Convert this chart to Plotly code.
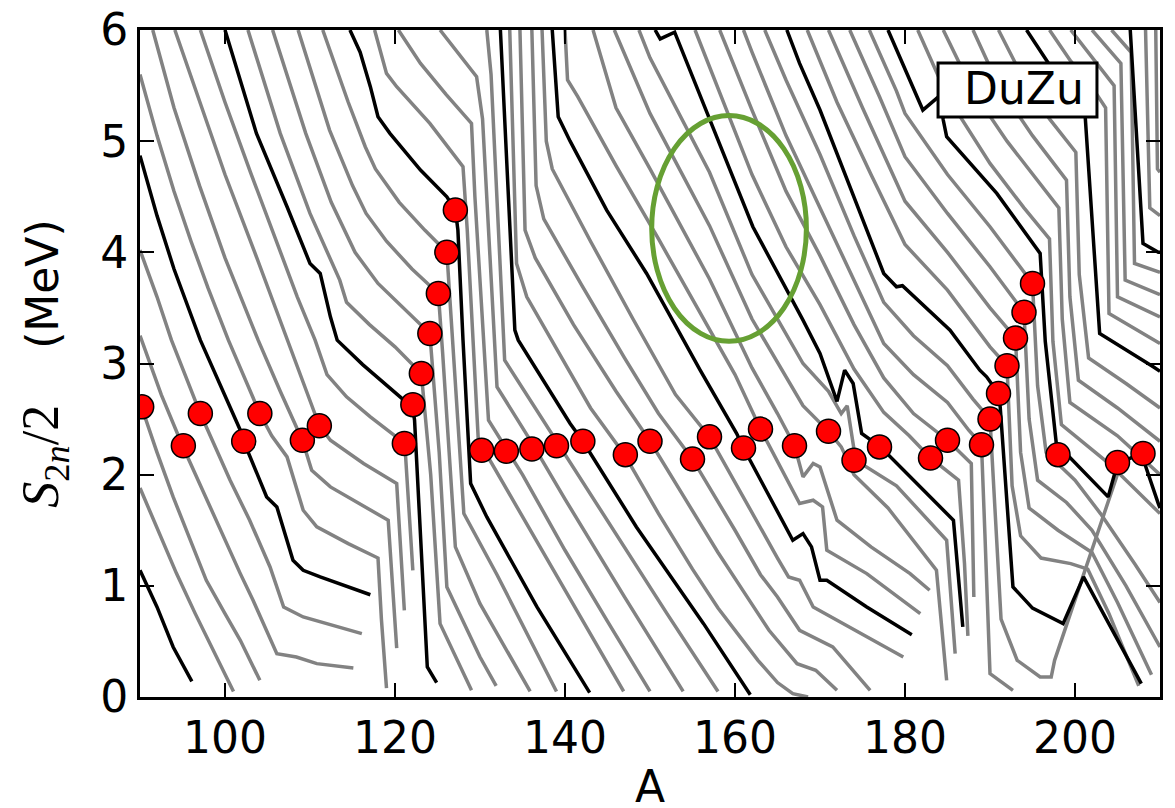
import plotly.graph_objects as go

# ---- isotopic chains: (A, S2n/2) ----
Z30 = [(90,1.14),(92,0.81),(93.9,0.45),(96.1,0.14)]
Z31 = [(90,1.88),(92,1.52),(94.3,1.11),(96.5,0.75),(98.6,0.42),(101,0.05)]
Z32 = [(90,2.65),(92,2.2),(93.9,1.8),(95.9,1.42),(97.8,1.05),(100,0.75),(101.8,0.51),(104.1,0.15)]
Z33 = [(90,3.25),(92.5,2.72),(95,2.26),(97,1.92),(99.5,1.5),(101.8,1.11),(103.3,0.87),(106.1,0.39),(108.4,0.36),(110.8,0.30),(115.1,0.26)]
Z34 = [(90,4.02),(92,3.6),(93.7,3.21),(95.5,2.85),(97.1,2.55),(100.6,1.95),(102.9,1.59),(105.3,1.17),(106.9,0.81),(109.2,0.72),(112.4,0.65),(116.1,0.57)]
Z35 = [(90,4.87),(92,4.33),(94,3.85),(96.3,3.39),(97.1,3.21),(101.8,2.40),(102.2,2.30),(104.9,1.80),(106.1,1.71),(108,1.23),(109.2,1.14),(111.2,1.08),(117.1,0.92)]
Z36 = [(90,5.6),(92,5.05),(94,4.55),(96,4.1),(98,3.68),(100.4,3.21),(104.1,2.55),(105.5,2.35),(107.3,2.16),(109.2,1.68),(110.8,1.53),(114.5,1.38),(118,1.25),(118.4,0.7),(119,0.08)]
Z37 = [(91.5,6),(94,5.3),(97,4.6),(100,3.95),(103.9,3.21),(106.5,2.75),(109.1,2.31),(110.2,2.04),(112.4,1.89),(117.1,1.68),(119.2,1.59),(120.2,0.44)]
Z38 = [(94.1,6),(97,5.35),(100,4.7),(103.5,4.0),(107.3,3.21),(109.5,2.75),(111.1,2.44),(112.4,2.31),(116.3,2.10),(120.2,1.92),(121.1,0.78)]
Z39 = [(97.1,6),(100,5.35),(103,4.72),(106.5,4.0),(108.5,3.6),(110.6,3.21),(112,2.9),(114.3,2.70),(117.1,2.52),(120.5,2.32),(121.2,2.22),(122.1,1.14)]
Z40 = [(100,6),(103.7,5.07),(107.3,4.41),(110,3.90),(111.2,3.81),(112.4,3.42),(113.2,3.21),(116.2,2.99),(120.6,2.70),(122.1,2.6),(122.3,2.49),(123.8,0.27),(124.9,0.13)]
Z41 = [(102.7,6),(106.5,5.07),(110,4.35),(113.5,3.75),(114.3,3.55),(117,3.35),(120,3.15),(123.1,2.91),(124.2,2.0),(125.3,0.66),(129,0.06)]
Z42 = [(105.6,6),(109.5,5.07),(112.5,4.45),(115.3,4.0),(118,3.72),(121,3.5),(124.1,3.27),(125.2,2.2),(126.1,0.99),(130,0.36),(131.9,0.1)]
Z43 = [(108.6,6),(112.3,5.1),(115,4.6),(116.6,4.35),(119,4.1),(122,3.85),(125.1,3.63),(125.6,3.1),(127.1,1.35),(130,0.84),(135.9,0.05)]
Z44 = [(111.5,6),(114.5,5.35),(116.5,4.95),(117.7,4.75),(120.5,4.45),(123.5,4.2),(126.1,4.0),(126.7,3.3),(128.1,1.65),(132,1.1),(139,0.05)]
Z45 = [(114.7,6),(115.9,5.8),(117.1,5.49),(118,5.22),(119.4,5.07),(123,4.74),(126.1,4.5),(127.1,4.38),(127.4,4.2),(128,3.21),(128.9,1.92),(130.8,1.62),(136.7,0.81),(142.9,0.04)]
Z46 = [(117.6,6),(119,5.61),(120.2,5.49),(124.1,5.16),(128,4.77),(128.5,4.2),(129.8,2.31),(135,1.62),(140,0.95),(146.9,0.05)]
Z47 = [(120.4,6),(123,5.7),(126,5.42),(129,5.16),(129.4,4.5),(131,2.49),(135,2.0),(140,1.32),(145,0.68),(150,0.05)]
Z48 = [(125.3,6),(129.6,5.58),(130.3,5.2),(132,2.79),(136,2.3),(140,1.78),(147,0.9),(153.9,0.05)]
Z49 = [(130.8,6),(131.3,5.6),(132.9,3.03),(136,2.66),(139,2.3),(147,1.35),(152,0.75),(158,0.05)]
Z50 = [(132.4,6),(134.1,3.3),(134.5,3.21),(140.6,2.46),(142.1,2.30),(148.4,1.53),(156.3,0.66),(161.8,0.02)]
Z51 = [(133.5,6),(134.3,3.9),(135.5,3.6),(140,3.0),(143,2.6),(147,2.18),(151,1.65),(155,1.15),(158,0.8),(161,0.5),(162.7,0.33),(165,0.13),(166.8,0.03),(168.6,0.0)]
Z52 = [(134.7,6),(135.3,4.2),(136.5,3.95),(141,3.35),(146,2.75),(150,2.30),(154,1.8),(158,1.3),(161,0.95),(164,0.6),(167.3,0.30),(169.5,0.24),(172,0.06)]
Z53 = [(136.1,6),(136.6,4.6),(137.5,4.3),(142,3.7),(147,3.05),(151,2.55),(155,2.14),(160,1.5),(163,1.1),(165,0.9),(167.6,0.6),(171.5,0.45),(175.9,0.06)]
Z54 = [(137.3,6),(137.8,5.0),(138.5,4.75),(143,4.1),(148,3.4),(153,2.72),(157,2.34),(162,1.65),(165,1.25),(166.3,1.08),(167.6,1.05),(169.2,0.81),(175.5,0.54),(179.8,0.36)]
Z55 = [(138.5,6),(139.2,5.22),(140.6,5.0),(144.9,4.38),(149.6,3.81),(155.9,2.94),(160.2,2.37),(161,2.24),(166.8,1.41),(168,1.47),(169,1.35),(170,1.05),(170.8,1.05),(175.5,0.81),(180.8,0.56)]
Z56 = [(140,6),(140.3,5.55),(141.5,5.4),(146,4.78),(151,4.12),(156,3.45),(160,2.9),(163,2.41),(165.5,2.05),(167.6,1.74),(169.2,1.77),(170.3,1.71),(170.8,1.32),(175.5,1.11),(181.8,0.75)]
Z57 = [(143.3,6),(146,5.3),(150,4.75),(157,3.76),(162,2.96),(165,2.55),(167,2.26),(168,1.98),(169.2,2.10),(170,2.07),(172,1.59),(176,1.35),(180.6,1.11),(182.9,0.96)]
Z58 = [(145.8,6),(150,5.25),(157,4.24),(162,3.4),(168,2.62),(171,2.39),(172.5,2.25),(174,2.0),(178,1.7),(183.7,1.14),(184.9,0.15)]
Z59 = [(148.7,6),(150,5.75),(157,4.72),(162,3.8),(168,3.0),(171,2.75),(172.5,2.55),(173.2,2.62),(174.2,2.13),(179,1.9),(184.9,1.41),(185.9,0.39)]
Z60 = [(150.6,6.0),(151.2,5.92),(152.9,5.98),(157.1,5.19),(162.1,4.23),(168,3.39),(170,3.09),(172,2.66),(172.9,2.94),(173.9,2.82),(174.9,2.37),(177.1,2.25),(185.7,1.59),(186.8,0.63)]
Z61 = [(155.3,6),(162,4.7),(166,4.05),(170,3.53),(174,2.95),(177.5,2.56),(180.5,2.35),(183,2.15),(186.3,1.95),(187,1.2),(187.4,0.55)]
Z62 = [(158.2,6),(162,5.28),(166,4.55),(170,3.97),(174,3.35),(177.5,2.87),(181,2.55),(185,2.31),(187.8,2.1),(188.1,0.9)]
Z63 = [(161,6),(162,5.8),(166,5.05),(170,4.4),(174,3.75),(177.5,3.18),(181,2.9),(185,2.65),(187.5,2.4),(189,2.27),(189.4,1.47),(190,0.21),(192.7,0.06)]
Z64 = [(163.5,6),(166,5.55),(170,4.88),(174,4.15),(177.5,3.55),(181,3.25),(185,2.98),(188,2.68),(190,2.5),(190.6,1.6),(191.3,0.7),(193.2,0.33),(195.9,0.18),(197.2,0.18),(197.6,0.33),(205.2,2.05)]
Z65 = [(166.1,6),(167.6,5.7),(170,5.28),(177.5,3.81),(179,3.69),(179.7,3.7),(185.3,3.30),(188.8,2.94),(189.6,2.88),(191,2.73),(191.2,2.61),(192.7,0.99),(195,0.8),(198.6,0.66),(201,1.08),(207.8,0.12)]
Z66 = [(168.5,6),(172,5.35),(176,4.7),(180,4.07),(185,3.66),(190,3.15),(192,2.98),(192.6,1.9),(193.6,1.45),(196,1.25),(199.5,1.2),(201.5,1.15),(204,0.75),(207.5,0.1)]
Z67 = [(171,6),(175,5.3),(180,4.46),(185,4.0),(190,3.5),(193,3.23),(193.6,2.2),(194.6,1.7),(198,1.5),(202,1.3),(205,0.85),(209,0.2)]
Z68 = [(173.5,6),(177,5.4),(180,4.86),(185,4.35),(190,3.87),(194,3.46),(194.6,2.5),(195.6,1.95),(199,1.75),(202,1.5),(206,1.0),(210,0.45)]
Z69 = [(175.8,6),(179,5.45),(180,5.25),(185,4.7),(190,4.23),(195,3.72),(195.6,2.8),(196.6,2.2),(200,1.95),(203,1.65),(207,1.2),(210,0.85)]
Z70 = [(178,6),(182.1,5.28),(184.1,5.41),(184.5,5.19),(184.9,5.04),(190.8,4.53),(195.9,3.99),(196.5,3.2),(197.8,2.28),(203.9,1.80),(205,2.1),(207.8,2.19),(209.8,1.74),(210,1.7)]
Z71 = [(181.5,6),(185,5.4),(190,4.8),(194,4.4),(197,4.12),(197.4,3.2),(198.4,2.45),(204,2.1),(210,1.65)]
Z72 = [(184.5,6),(188,5.45),(192,5.0),(196,4.6),(198.1,4.4),(198.5,3.4),(199.4,2.65),(205,2.35),(210,2.0)]
Z73 = [(188,6),(191,5.5),(195,5.05),(199,4.65),(199.4,3.6),(200.4,2.85),(205,2.6),(210,2.3)]
Z74 = [(191,6),(194,5.55),(197,5.2),(200.1,4.9),(200.5,3.8),(201.6,3.05),(206,2.82),(210,2.6)]
Z75 = [(194.3,6),(196.8,5.71),(201.2,5.22),(202.9,3.27),(209.2,2.97),(210,2.93)]
Z76 = [(197,6),(199.5,5.72),(202.3,5.45),(203.6,5.3),(204,3.45),(210,3.18)]
Z77 = [(199.5,6),(202,5.75),(204.6,5.5),(205,3.6),(210,3.42)]
Z78 = [(202,6),(205.4,5.7),(205.9,3.75),(210,3.62)]
Z79 = [(204.3,6),(206.6,5.8),(207,3.9),(210,3.82)]
Z80 = [(206.5,6),(208,4.08),(209.8,4.0),(210,4.0)]
Z81 = [(208.3,6),(208.8,4.4),(210,4.33)]
Z82 = [(209.5,6),(209.7,4.75),(210,4.72)]

BLACK_LINES = [Z30, Z35, Z40, Z45, Z50, Z55, Z60, Z65, Z70, Z75, Z80]
GRAY_LINES = [Z31, Z32, Z33, Z34, Z36, Z37, Z38, Z39, Z41, Z42, Z43, Z44,
              Z46, Z47, Z48, Z49, Z51, Z52, Z53, Z54, Z56, Z57, Z58, Z59,
              Z61, Z62, Z63, Z64, Z66, Z67, Z68, Z69, Z71, Z72, Z73, Z74,
              Z76, Z77, Z78, Z79, Z81, Z82]

# ---- r-process path points ----
PATH_A = [90.2, 95.1, 97.1, 102.2, 104.1, 109.1, 111.1,
          121.1, 122.1, 123.1, 124.1, 125.1, 126.1, 127.1,
          130.2, 133.1, 136.1, 139, 142.1,
          147.1, 150, 155, 157, 161, 163, 167, 171, 174, 177,
          183, 185, 189, 190, 191, 192, 193, 194, 195,
          198, 205, 208]
PATH_S = [2.61, 2.26, 2.55, 2.30, 2.55, 2.31, 2.44,
          2.28, 2.63, 2.91, 3.27, 3.63, 4.00, 4.38,
          2.22, 2.21, 2.23, 2.26, 2.30,
          2.18, 2.30, 2.14, 2.34, 2.24, 2.41, 2.26, 2.39, 2.13, 2.25,
          2.15, 2.31, 2.27, 2.50, 2.73, 2.98, 3.23, 3.46, 3.72,
          2.18, 2.11, 2.19]

X_TICKS = [100, 120, 140, 160, 180, 200]
Y_TICKS = [0, 1, 2, 3, 4, 5, 6]
ELLIPSE = dict(a0=150.2, a1=168.4, s0=3.20, s1=5.23)
LEGEND_LABEL = "DuZu"

FONT = "DejaVu Sans"

fig = go.Figure()
for ln in GRAY_LINES:
    fig.add_trace(go.Scatter(x=[p[0] for p in ln], y=[p[1] for p in ln], mode="lines",
                             line=dict(color="#828282", width=3.5), hoverinfo="skip"))
for ln in BLACK_LINES:
    fig.add_trace(go.Scatter(x=[p[0] for p in ln], y=[p[1] for p in ln], mode="lines",
                             line=dict(color="black", width=3.5), hoverinfo="skip"))
fig.add_trace(go.Scatter(x=PATH_A, y=PATH_S, mode="markers",
                         marker=dict(size=24, color="#ff0000", line=dict(color="black", width=1.5))))

fig.add_shape(type="circle", xref="x", yref="y",
              x0=ELLIPSE["a0"], x1=ELLIPSE["a1"], y0=ELLIPSE["s0"], y1=ELLIPSE["s1"],
              line=dict(color="#66a033", width=5), layer="above")

# legend box
fig.add_shape(type="rect", xref="paper", yref="paper",
              x0=0.7824, x1=0.9382, y0=0.8696, y1=0.9505,
              fillcolor="white", line=dict(color="black", width=3), layer="above")
fig.add_annotation(xref="paper", yref="paper", x=0.806, y=0.912, xanchor="left", yanchor="middle",
                   text=LEGEND_LABEL, showarrow=False, font=dict(family=FONT, size=44, color="black"))

axis_common = dict(showline=True, linewidth=3, linecolor="black", mirror="ticks",
                   ticks="inside", ticklen=14, tickwidth=1.5, tickcolor="black",
                   showgrid=False, zeroline=False, ticklabeloverflow="allow",
                   tickfont=dict(family=FONT, size=44, color="black"))

fig.update_xaxes(range=[90, 210], tickvals=X_TICKS, ticktext=[str(v) for v in X_TICKS],
                 title=dict(text="A", font=dict(family=FONT, size=44, color="black"), standoff=10),
                 automargin=False, **axis_common)
ytitle = ("<span style='font-family:Liberation Serif;font-size:52px'><i>S</i><sub>2<i>n</i></sub>/2</span>"
          "\u00a0\u00a0\u00a0\u00a0(MeV)")
fig.update_yaxes(range=[0, 6], tickvals=Y_TICKS, ticktext=[str(v) for v in Y_TICKS],
                 title=dict(text=ytitle, font=dict(family=FONT, size=44, color="black"), standoff=28),
                 automargin=False, **axis_common)

# page body adds an 8px offset, so margins are shifted to land the frame at 140..1160 x 30..697
fig.update_layout(width=1175, height=808, margin=dict(l=132, r=23, t=22, b=119),
                  plot_bgcolor="white", paper_bgcolor="white", showlegend=False)

fig.write_html("out.html")
